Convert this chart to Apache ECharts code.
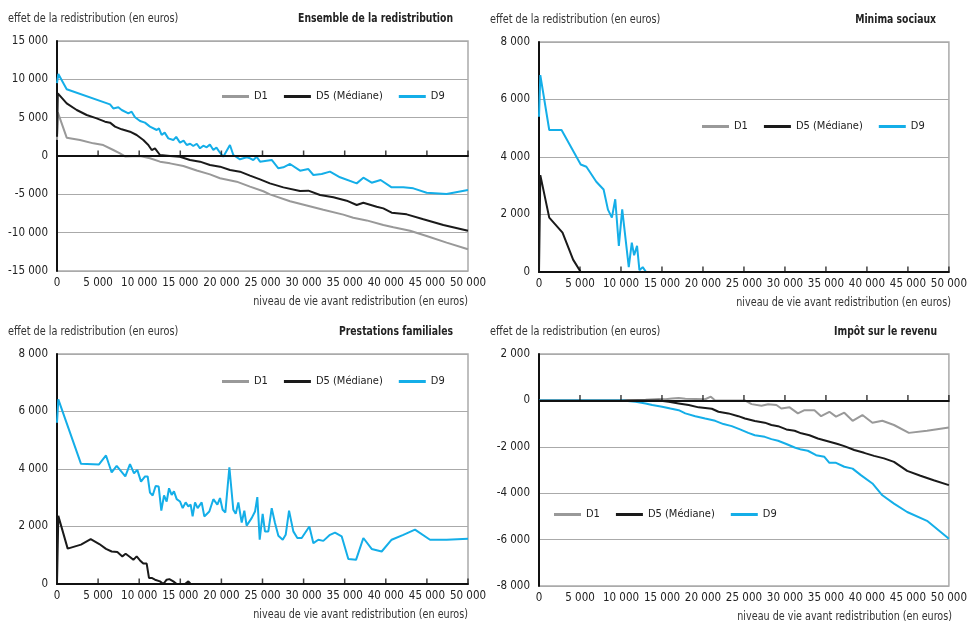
<!DOCTYPE html>
<html><head><meta charset="utf-8">
<script src="https://cdn.jsdelivr.net/npm/echarts@6/dist/echarts.min.js"></script>
<style>html,body{margin:0;padding:0;background:#fff}#c{width:970px;height:622px}</style>
</head><body><div id="c"></div>
<script>
const FONT = '"Liberation Sans Narrow","DejaVu Sans Condensed","Roboto Condensed",sans-serif';
const seriesNames = ['D1', 'D5 (Médiane)', 'D9'];
const panelTitles = ['Ensemble de la redistribution', 'Minima sociaux', 'Prestations familiales', 'Impôt sur le revenu'];
const yAxisName = 'effet de la redistribution (en euros)';
const xAxisName = 'niveau de vie avant redistribution (en euros)';
const yRanges = [[-15000, 15000, 5000], [0, 8000, 2000], [0, 8000, 2000], [-8000, 2000, 2000]];
const xTickValues = [5000, 10000, 15000, 20000, 25000, 30000, 35000, 40000, 45000, 50000];

// Ensemble de la redistribution
const ensD1 = [[0,2100],[100,5700],[1180,2390],[2800,2090],[4420,1650],[5630,1430],[6850,780],[7660,350],[8270,-50],[10100,0],[11310,-300],[12530,-740],[13750,-960],[15370,-1300],[17000,-1900],[18610,-2400],[19830,-2900],[21860,-3350],[23480,-4000],[25100,-4600],[25900,-5000],[28350,-5900],[30380,-6450],[32400,-7000],[34830,-7650],[36040,-8050],[37670,-8400],[39700,-9000],[40920,-9300],[42950,-9750],[44970,-10430],[47400,-11300],[50000,-12170]];
const ensD5 = [[0,2500],[100,8170],[1180,6870],[2400,6000],[3610,5350],[4830,4910],[5840,4480],[6450,4350],[7060,3830],[7870,3480],[8880,3170],[9690,2740],[10500,2090],[11110,1430],[11520,780],[11920,1000],[12530,130],[13750,0],[14960,-90],[16180,-520],[17400,-740],[18610,-1170],[19830,-1390],[21050,-1830],[22260,-2040],[23480,-2560],[24700,-3050],[25900,-3570],[27540,-4090],[29560,-4570],[30580,-4520],[32000,-5090],[33620,-5390],[35240,-5830],[36460,-6390],[37270,-6090],[38890,-6610],[39700,-6830],[40710,-7390],[42540,-7610],[44570,-8260],[47000,-9000],[50000,-9740]];
const ensD9 = [[0,9500],[160,10700],[1180,8700],[6450,6740],[6850,6200],[7460,6350],[7870,6000],[8680,5560],[9080,5780],[9490,5050],[10100,4560],[10700,4350],[11310,3830],[12130,3390],[12400,3600],[12730,2740],[13100,3050],[13540,2300],[14150,2080],[14500,2500],[14960,1740],[15400,2000],[15780,1430],[16200,1600],[16580,1300],[17000,1600],[17400,1000],[17800,1350],[18210,1130],[18600,1500],[19020,780],[19400,1100],[19830,430],[20230,-90],[21040,1430],[21450,130],[22260,-430],[23070,-170],[23480,-300],[23880,-520],[24290,-90],[24700,-740],[26120,-520],[26930,-1600],[27540,-1480],[28350,-1040],[29570,-1910],[30580,-1700],[31190,-2480],[32200,-2350],[33210,-2040],[34430,-2780],[36460,-3570],[37270,-2830],[38280,-3480],[39370,-3130],[40710,-4090],[42130,-4090],[43350,-4220],[44970,-4790],[47400,-4960],[50000,-4430]];

// Minima sociaux
const minD1 = [[0,0],[3150,0]];
const minD5 = [[0,0],[160,3370],[1250,1890],[2870,1370],[4160,430],[5090,0],[50000,0]];
const minD9 = [[0,5400],[160,6850],[1250,4940],[2750,4940],[5090,3740],[5780,3660],[6990,3140],[7880,2870],[8410,2170],[8890,1890],[9300,2530],[9740,910],[10150,2180],[10950,170],[11320,1020],[11600,580],[11960,910],[12250,60],[12650,170],[13060,0],[50000,0]];

// Prestations familiales
const preD1 = [];
const preD5 = [[0,0],[160,2370],[1300,1230],[2920,1370],[4100,1560],[5150,1390],[5960,1220],[6650,1130],[7340,1110],[7950,960],[8350,1050],[8880,940],[9290,840],[9690,960],[10100,820],[10500,710],[10910,710],[11190,210],[11520,210],[11920,150],[12530,90],[12940,0],[13340,150],[13670,170],[14150,90],[14560,0],[15570,0],[15980,90],[16260,0],[50000,0]];
const preD9 = [[0,5610],[160,6420],[2920,4180],[5110,4160],[5960,4470],[6650,3880],[7260,4110],[8310,3740],[8880,4170],[9370,3850],[9770,3970],[10220,3560],[10710,3740],[11030,3740],[11310,3180],[11640,3080],[12000,3410],[12370,3390],[12690,2550],[13020,3080],[13340,2870],[13630,3330],[13950,3100],[14230,3220],[14560,2950],[14960,2870],[15290,2640],[15650,2840],[15980,2700],[16260,2760],[16500,2350],[16790,2840],[17110,2640],[17600,2840],[17920,2350],[18530,2520],[19020,2950],[19510,2760],[19830,2990],[20150,2580],[20480,2490],[20970,4060],[21450,2580],[21740,2440],[22060,2840],[22470,2140],[22790,2550],[23070,2030],[23680,2290],[24090,2520],[24370,3020],[24660,1540],[25020,2440],[25300,1830],[25710,1830],[26120,2640],[26520,2120],[26930,1680],[27460,1540],[27820,1710],[28230,2550],[28750,1830],[29240,1600],[29770,1600],[30700,2000],[31190,1420],[31790,1540],[32400,1500],[33210,1710],[33820,1790],[34630,1660],[35440,870],[36380,840],[37270,1600],[38280,1220],[39500,1130],[40710,1540],[42130,1710],[43550,1890],[45380,1540],[47410,1540],[50000,1570]];

// Impôt sur le revenu
const impD1 = [[10180,0],[13000,30],[14620,60],[15430,50],[16230,80],[17040,100],[17850,70],[19060,60],[20270,50],[20960,160],[21490,0],[25120,0],[25930,-160],[27140,-230],[27950,-170],[28960,-200],[29560,-350],[30570,-300],[31580,-560],[32390,-420],[33600,-420],[34410,-680],[35420,-490],[36230,-700],[37240,-530],[38250,-880],[39450,-630],[40670,-960],[41880,-880],[43300,-1060],[45120,-1400],[47330,-1310],[50000,-1170]];
const impD5 = [[0,0],[14620,0],[15830,-60],[17040,-130],[18260,-200],[19470,-300],[21080,-360],[21890,-490],[23100,-560],[24310,-680],[25120,-780],[26330,-890],[27540,-960],[28350,-1060],[29160,-1110],[30170,-1250],[31180,-1310],[31990,-1420],[32990,-1500],[34010,-1640],[35220,-1760],[36430,-1880],[37240,-1970],[38450,-2140],[39660,-2260],[40870,-2390],[42080,-2500],[43300,-2650],[44910,-3040],[46530,-3250],[48140,-3440],[50000,-3650]];
const impD9 = [[0,0],[10180,0],[11790,-60],[13000,-130],[13810,-200],[15020,-270],[16030,-350],[17040,-420],[17850,-560],[19060,-680],[20270,-780],[21490,-880],[22500,-1020],[23510,-1110],[24520,-1250],[25530,-1400],[26330,-1500],[27540,-1570],[28350,-1670],[29160,-1740],[30170,-1880],[31180,-2030],[31990,-2120],[32790,-2170],[33800,-2360],[34810,-2430],[35420,-2690],[36230,-2690],[37240,-2860],[38250,-2940],[39260,-3220],[40670,-3580],[41880,-4090],[43300,-4450],[44910,-4810],[47330,-5190],[50000,-5960]];

const panelData = [[ensD1, ensD5, ensD9], [minD1, minD5, minD9], [preD1, preD5, preD9], [impD1, impD5, impD9]];
const colors = ['#999999', '#1a1a1a', '#14aee8'];

// layout
const grids = [
  {left: 57, top: 41, width: 411, height: 230},
  {left: 539, top: 42, width: 412, height: 230},
  {left: 57, top: 354, width: 411, height: 230},
  {left: 539, top: 354, width: 413, height: 232}
];
const legendPos = [[222, 91], [702, 121], [222, 376], [554, 509]];
const fmt = v => String(v).replace(/\B(?=(\d{3})+(?!\d))/g, ' ');

const option = {
  animation: false,
  textStyle: {fontFamily: FONT},
  grid: grids.map(g => Object.assign({show: true, borderColor: '#aaaaaa', borderWidth: 1.5, backgroundColor: 'transparent'}, g)),
  xAxis: [], yAxis: [], series: [], legend: [], graphic: []
};
grids.forEach((g, i) => {
  option.xAxis.push({
    type: 'value', gridIndex: i, min: 0, max: 50000, interval: 5000, position: 'bottom',
    axisLine: {show: false, onZero: false}, axisTick: {show: false}, splitLine: {show: false},
    axisLabel: {formatter: fmt, color: '#222', fontSize: 11.5, fontFamily: FONT, margin: 6}
  });
  option.xAxis.push({
    type: 'value', gridIndex: i, min: 0, max: 50000, interval: 5000, position: 'top', z: 10,
    axisLine: {show: true, onZero: true, lineStyle: {color: '#111', width: 2}},
    axisTick: {show: false},
    axisLabel: {show: false}, splitLine: {show: false}
  });
  const r = yRanges[i];
  option.yAxis.push({
    type: 'value', gridIndex: i, min: r[0], max: r[1], interval: r[2],
    axisLine: {show: true, onZero: false, lineStyle: {color: '#111', width: 2}},
    axisTick: {show: false},
    splitLine: {show: true, lineStyle: {color: '#aaaaaa', width: 1}},
    axisLabel: {formatter: fmt, color: '#222', fontSize: 11.5, fontFamily: FONT, margin: 9}
  });
  panelData[i].forEach((d, k) => {
    option.series.push({
      type: 'line', name: seriesNames[k], xAxisIndex: i * 2, yAxisIndex: i, data: d,
      showSymbol: false, symbol: 'none', smooth: false, z: 3 + k,
      lineStyle: {color: colors[k], width: 2}, itemStyle: {color: colors[k]}
    });
  });
  // tick marks on the zero line, pointing up
  option.series.push({
    type: 'scatter', name: 'ticks' + i, xAxisIndex: i * 2, yAxisIndex: i,
    data: xTickValues.map(v => [v, 0]), symbol: 'rect', symbolSize: [1.5, 5], symbolOffset: [0, -3],
    itemStyle: {color: '#111'}, silent: true, z: 10, clip: false
  });
  option.legend.push({
    left: legendPos[i][0], top: legendPos[i][1], data: seriesNames, icon: 'rect',
    itemWidth: 27, itemHeight: 3, itemGap: 16, selectedMode: false,
    textStyle: {color: '#222', fontSize: 11, fontFamily: FONT}, padding: 0
  });
  option.graphic.push({
    type: 'text', x: g.left - 49, y: g.top - 28, scaleX: 0.9,
    style: {text: yAxisName, fill: '#333', font: '12px ' + FONT, textAlign: 'left'}
  });
  option.graphic.push({
    type: 'text', x: g.left + g.width - 15, y: g.top - 28, scaleX: 0.86,
    style: {text: panelTitles[i], fill: '#222', font: 'bold 12px ' + FONT, textAlign: 'right'}
  });
  option.graphic.push({
    type: 'text', x: g.left + g.width, y: g.top + g.height + 25, scaleX: 0.89,
    style: {text: xAxisName, fill: '#333', font: '12px ' + FONT, textAlign: 'right'}
  });
});
const chart = echarts.init(document.getElementById('c'));
chart.setOption(option);
</script></body></html>
